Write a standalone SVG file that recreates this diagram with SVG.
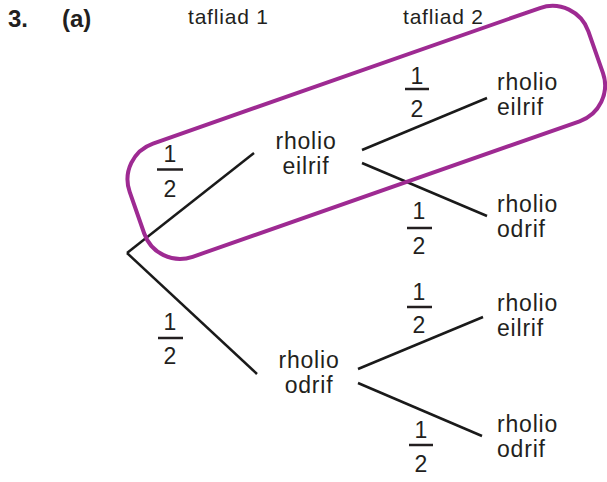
<svg xmlns="http://www.w3.org/2000/svg" width="607" height="482" viewBox="0 0 607 482">
<style>
.t{font-family:"Liberation Sans",Arial,sans-serif;font-size:23px;fill:#231f20;letter-spacing:0.8px}
.m{text-anchor:middle}
.h{font-family:"Liberation Sans",Arial,sans-serif;font-size:21px;fill:#231f20;letter-spacing:0.8px}
.b{font-family:"Liberation Sans",Arial,sans-serif;font-size:24px;font-weight:bold;fill:#231f20}
.f{font-family:"Liberation Sans",Arial,sans-serif;font-size:23px;fill:#231f20;text-anchor:middle}
.bar{stroke:#231f20;stroke-width:2.5}
.c{stroke:#1a1a1a;stroke-width:2.5;fill:none;stroke-linecap:butt}
</style>
<rect width="607" height="482" fill="#ffffff"/>
<g id="header">
<text class="b" x="8" y="27">3.</text>
<text class="b" x="62" y="27">(a)</text>
<text class="h" x="188" y="24">tafliad 1</text>
<text class="h" x="403" y="24">tafliad 2</text>
</g>
<g id="connectors">
<line class="c" x1="127" y1="253" x2="254" y2="153"/>
<line class="c" x1="127" y1="253" x2="257" y2="374"/>
<line class="c" x1="362" y1="150" x2="487" y2="98"/>
<line class="c" x1="362" y1="163" x2="487" y2="216"/>
<line class="c" x1="358" y1="369" x2="483" y2="317"/>
<line class="c" x1="358" y1="383" x2="482" y2="436"/>
</g>
<g id="fractions">
<text class="f" x="170" y="162">1</text><line class="bar" x1="157" y1="169.5" x2="183" y2="169.5"/><text class="f" x="170" y="197">2</text>
<text class="f" x="170" y="330">1</text><line class="bar" x1="158" y1="338" x2="183" y2="338"/><text class="f" x="170" y="364">2</text>
<text class="f" x="417" y="84">1</text><line class="bar" x1="405" y1="89" x2="429" y2="89"/><text class="f" x="417" y="117">2</text>
<text class="f" x="419" y="219">1</text><line class="bar" x1="407" y1="228" x2="432" y2="228"/><text class="f" x="419" y="254">2</text>
<text class="f" x="419" y="300">1</text><line class="bar" x1="407" y1="307" x2="432" y2="307"/><text class="f" x="419" y="333">2</text>
<text class="f" x="421" y="438">1</text><line class="bar" x1="409" y1="445" x2="433" y2="445"/><text class="f" x="421" y="472">2</text>
</g>
<g id="n1-eilrif"><text class="t m" x="306" y="149">rholio</text><text class="t m" x="306" y="174">eilrif</text></g>
<g id="n1-odrif"><text class="t m" x="309" y="368">rholio</text><text class="t m" x="309" y="393">odrif</text></g>
<g id="n2-ee"><text class="t" x="497" y="90">rholio</text><text class="t" x="497" y="115">eilrif</text></g>
<g id="n2-eo"><text class="t" x="497" y="212">rholio</text><text class="t" x="497" y="237">odrif</text></g>
<g id="n2-oe"><text class="t" x="497" y="311">rholio</text><text class="t" x="497" y="336">eilrif</text></g>
<g id="n2-oo"><text class="t" x="497" y="432">rholio</text><text class="t" x="497" y="457">odrif</text></g>
<g id="highlight">
<rect x="-243" y="-60" width="486" height="120" rx="38" fill="none" stroke="#9e2a92" stroke-width="4" transform="translate(366.3 132.4) rotate(-19.3)"/>
</g>
</svg>
